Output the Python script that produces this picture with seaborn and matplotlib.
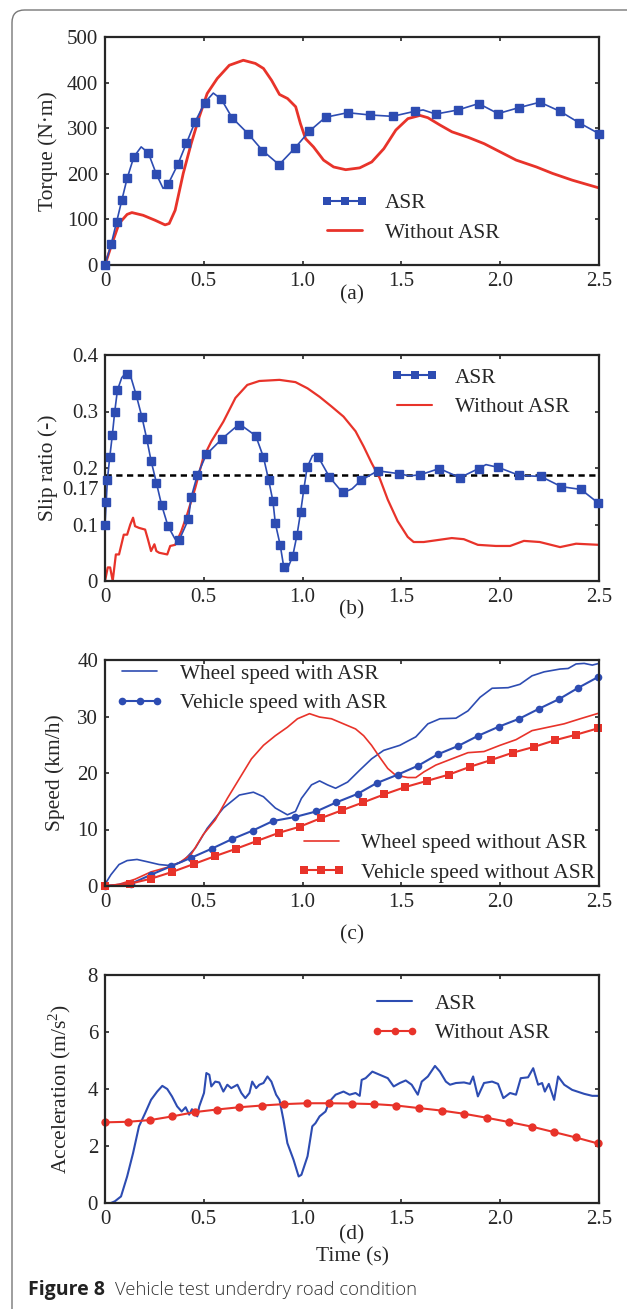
import numpy as np
import pandas as pd
import matplotlib.pyplot as plt
import seaborn as sns
from matplotlib.lines import Line2D
from matplotlib.patches import FancyBboxPatch

sns.set_style('ticks')
plt.rcParams['font.family'] = ['Liberation Serif', 'DejaVu Serif']
plt.rcParams['mathtext.fontset'] = 'custom'
plt.rcParams['mathtext.rm'] = 'Liberation Serif'
plt.rcParams['xtick.direction'] = 'in'
plt.rcParams['ytick.direction'] = 'in'
plt.rcParams['xtick.top'] = True
plt.rcParams['ytick.right'] = True
plt.rcParams['axes.linewidth'] = 1.6
plt.rcParams['xtick.major.size'] = 3
plt.rcParams['ytick.major.size'] = 3
plt.rcParams['xtick.labelsize'] = 15
plt.rcParams['ytick.labelsize'] = 15

BLUE = '#2D4CB2'
RED = '#E8332A'

# ---------------- (a) torque ----------------
tq_asr_t = [0, 0.032, 0.059, 0.085, 0.112, 0.146, 0.183, 0.219, 0.26, 0.294, 0.319, 0.369, 0.412,
            0.455, 0.505, 0.548, 0.588, 0.643, 0.724, 0.797, 0.881, 0.96, 1.033, 1.116, 1.228,
            1.341, 1.455, 1.567, 1.61, 1.674, 1.786, 1.891, 1.989, 2.094, 2.201, 2.303, 2.399, 2.5]
tq_asr_v = [0, 47, 95, 142, 190, 237, 259, 246, 199, 168, 177, 221, 267,
            313, 356, 377, 364, 323, 288, 251, 220, 256, 293, 324, 334,
            329, 326, 337, 340, 331, 340, 354, 332, 345, 357, 337, 312, 288]
tq_mk_t = [0, 0.032, 0.059, 0.085, 0.112, 0.146, 0.219, 0.26, 0.319, 0.369, 0.412, 0.455, 0.505,
           0.588, 0.643, 0.724, 0.797, 0.881, 0.96, 1.033, 1.116, 1.228, 1.341, 1.455, 1.567,
           1.674, 1.786, 1.891, 1.989, 2.094, 2.201, 2.303, 2.399, 2.5]
tq_mk_v = [0, 47, 95, 142, 190, 237, 246, 199, 177, 221, 267, 313, 356,
           364, 323, 288, 251, 220, 256, 293, 324, 334, 329, 326, 337,
           331, 340, 354, 332, 345, 357, 337, 312, 288]
tq_no_t = [0, 0.03, 0.071, 0.112, 0.136, 0.193, 0.254, 0.304, 0.325, 0.355, 0.396, 0.436, 0.477,
           0.517, 0.568, 0.629, 0.70, 0.761, 0.802, 0.843, 0.883, 0.924, 0.965, 0.989, 1.015,
           1.055, 1.106, 1.157, 1.218, 1.289, 1.35, 1.411, 1.472, 1.533, 1.594, 1.634, 1.695,
           1.756, 1.838, 1.919, 2.0, 2.081, 2.183, 2.264, 2.365, 2.5]
tq_no_v = [0, 40, 91, 111, 115, 109, 98, 88, 91, 120, 201, 266, 325,
           376, 409, 438, 449, 442, 431, 405, 374, 365, 347, 310, 277,
           259, 230, 215, 209, 213, 226, 255, 296, 321, 328, 323, 307,
           292, 280, 266, 248, 230, 215, 201, 186, 169]

# ---------------- (b) slip ratio ----------------
sl_mk_t = [0, 0.006, 0.012, 0.024, 0.037, 0.049, 0.063, 0.112, 0.158, 0.187, 0.211, 0.233, 0.26,
           0.286, 0.319, 0.375, 0.422, 0.436, 0.467, 0.513, 0.593, 0.68, 0.763, 0.802, 0.828,
           0.85, 0.862, 0.887, 0.905, 0.95, 0.972, 0.99, 1.006, 1.023, 1.08, 1.136, 1.203,
           1.295, 1.38, 1.487, 1.595, 1.692, 1.796, 1.891, 1.991, 2.096, 2.206, 2.309, 2.409, 2.496]
sl_mk_v = [0.1, 0.139, 0.179, 0.219, 0.258, 0.299, 0.338, 0.366, 0.329, 0.29, 0.252, 0.213, 0.174,
           0.135, 0.097, 0.072, 0.109, 0.148, 0.187, 0.224, 0.252, 0.276, 0.257, 0.219, 0.179,
           0.141, 0.102, 0.063, 0.024, 0.044, 0.082, 0.122, 0.162, 0.201, 0.219, 0.184, 0.157,
           0.178, 0.195, 0.19, 0.188, 0.199, 0.183, 0.199, 0.201, 0.187, 0.185, 0.167, 0.162, 0.138]
sl_asr_t = [0, 0.006, 0.012, 0.024, 0.037, 0.049, 0.063, 0.085, 0.108, 0.13, 0.158, 0.187, 0.211,
            0.233, 0.26, 0.286, 0.319, 0.355, 0.375, 0.422, 0.436, 0.467, 0.513, 0.593, 0.68,
            0.763, 0.802, 0.828, 0.85, 0.862, 0.887, 0.905, 0.918, 0.95, 0.972, 0.99, 1.006,
            1.023, 1.05, 1.07, 1.08, 1.136, 1.203, 1.25, 1.295, 1.38, 1.487, 1.54, 1.595, 1.692,
            1.796, 1.891, 1.928, 1.991, 2.096, 2.206, 2.309, 2.409, 2.496]
sl_asr_v = [0.1, 0.139, 0.179, 0.219, 0.258, 0.299, 0.338, 0.36, 0.369, 0.362, 0.329, 0.29, 0.252,
            0.213, 0.174, 0.135, 0.097, 0.074, 0.072, 0.109, 0.148, 0.187, 0.224, 0.252, 0.278,
            0.257, 0.219, 0.179, 0.141, 0.102, 0.063, 0.024, 0.017, 0.044, 0.082, 0.122, 0.162,
            0.201, 0.222, 0.224, 0.219, 0.184, 0.156, 0.163, 0.178, 0.195, 0.19, 0.186, 0.188,
            0.199, 0.183, 0.199, 0.206, 0.201, 0.187, 0.185, 0.167, 0.162, 0.138]
sl_no_t = [0, 0.014, 0.026, 0.039, 0.055, 0.071, 0.095, 0.112, 0.128, 0.142, 0.152, 0.172, 0.203,
           0.217, 0.233, 0.25, 0.26, 0.274, 0.315, 0.33, 0.355, 0.386, 0.416, 0.457, 0.497,
           0.538, 0.599, 0.66, 0.72, 0.781, 0.883, 0.964, 1.025, 1.086, 1.146, 1.207, 1.268,
           1.309, 1.349, 1.39, 1.431, 1.481, 1.532, 1.562, 1.613, 1.674, 1.755, 1.816, 1.887,
           1.978, 2.05, 2.12, 2.2, 2.303, 2.384, 2.5]
sl_no_v = [0, 0.024, 0.024, 0.0, 0.047, 0.047, 0.082, 0.082, 0.1, 0.112, 0.097, 0.094, 0.091,
           0.074, 0.053, 0.065, 0.053, 0.05, 0.047, 0.062, 0.064, 0.088, 0.118, 0.165, 0.218,
           0.247, 0.282, 0.324, 0.347, 0.354, 0.356, 0.352, 0.341, 0.326, 0.309, 0.291, 0.265,
           0.238, 0.209, 0.182, 0.144, 0.106, 0.078, 0.069, 0.069, 0.072, 0.076, 0.074, 0.064,
           0.062, 0.062, 0.071, 0.069, 0.06, 0.066, 0.064]
slip_ref = 0.187

# ---------------- (c) speed ----------------
ws_asr_t = [0, 0.03, 0.071, 0.112, 0.162, 0.213, 0.274, 0.335, 0.396, 0.457, 0.517, 0.599, 0.68,
            0.751, 0.802, 0.862, 0.923, 0.964, 0.994, 1.045, 1.086, 1.126, 1.167, 1.228, 1.289,
            1.349, 1.41, 1.492, 1.573, 1.634, 1.695, 1.776, 1.837, 1.898, 1.959, 2.04, 2.1,
            2.161, 2.222, 2.303, 2.344, 2.384, 2.425, 2.466, 2.5]
ws_asr_v = [0.3, 2.0, 3.8, 4.5, 4.7, 4.3, 3.8, 3.6, 4.4, 6.7, 10.2, 13.8, 16.1,
            16.6, 15.8, 13.8, 12.6, 13.2, 15.5, 17.9, 18.6, 17.9, 17.3, 18.4, 20.5,
            22.5, 24.0, 24.9, 26.4, 28.7, 29.6, 29.7, 31.0, 33.4, 35.0, 35.1, 35.7,
            37.2, 37.9, 38.4, 38.5, 39.3, 39.4, 39.1, 39.4]
vs_asr_t = [0, 0.132, 0.233, 0.335, 0.436, 0.54, 0.643, 0.747, 0.85, 0.96, 1.069, 1.171, 1.278,
            1.374, 1.481, 1.585, 1.684, 1.788, 1.889, 1.993, 2.096, 2.198, 2.299, 2.396, 2.496]
vs_asr_v = [0, 0.4, 2.0, 3.5, 5.0, 6.6, 8.3, 9.8, 11.5, 12.2, 13.2, 14.8, 16.3,
            18.2, 19.7, 21.3, 23.3, 24.8, 26.6, 28.2, 29.6, 31.4, 33.1, 35.1, 37.0]
ws_no_t = [0, 0.071, 0.152, 0.233, 0.315, 0.375, 0.436, 0.497, 0.558, 0.619, 0.68, 0.741, 0.802,
           0.862, 0.923, 0.974, 1.035, 1.086, 1.146, 1.207, 1.268, 1.309, 1.349, 1.39, 1.431,
           1.471, 1.532, 1.573, 1.614, 1.674, 1.755, 1.837, 1.918, 1.999, 2.08, 2.161, 2.242,
           2.323, 2.405, 2.5]
ws_no_v = [0, 0.3, 1.2, 2.5, 3.3, 4.1, 5.6, 9.1, 11.7, 15.5, 19.0, 22.5, 24.9,
           26.6, 28.1, 29.6, 30.5, 29.9, 29.6, 28.7, 27.8, 26.6, 24.9, 22.8, 20.8,
           19.6, 19.2, 19.2, 20.2, 21.4, 22.5, 23.6, 23.8, 24.9, 25.9, 27.5, 28.1,
           28.7, 29.6, 30.6]
vs_no_t = [0, 0.126, 0.233, 0.341, 0.45, 0.558, 0.664, 0.771, 0.879, 0.986, 1.092, 1.199, 1.307,
           1.412, 1.518, 1.629, 1.739, 1.847, 1.954, 2.064, 2.169, 2.277, 2.386, 2.494]
vs_no_v = [0, 0.4, 1.3, 2.5, 3.9, 5.3, 6.6, 8.0, 9.4, 10.5, 12.0, 13.4, 14.8,
           16.2, 17.5, 18.6, 19.7, 21.1, 22.3, 23.6, 24.6, 25.8, 26.8, 27.9]

# ---------------- (d) acceleration ----------------
ac_asr_t = [0.03, 0.05, 0.081, 0.112, 0.142, 0.172, 0.203, 0.233, 0.264, 0.29, 0.315, 0.339, 0.365,
            0.388, 0.408, 0.426, 0.44, 0.467, 0.477, 0.501, 0.513, 0.528, 0.538, 0.558, 0.578,
            0.599, 0.619, 0.639, 0.67, 0.69, 0.71, 0.731, 0.745, 0.765, 0.781, 0.802, 0.822,
            0.842, 0.866, 0.883, 0.903, 0.923, 0.954, 0.98, 0.994, 1.025, 1.049, 1.065, 1.086,
            1.116, 1.136, 1.167, 1.207, 1.238, 1.268, 1.289, 1.299, 1.319, 1.353, 1.39, 1.431,
            1.461, 1.492, 1.522, 1.552, 1.583, 1.603, 1.634, 1.67, 1.695, 1.725, 1.746, 1.776,
            1.817, 1.847, 1.863, 1.887, 1.918, 1.959, 1.989, 2.016, 2.05, 2.08, 2.104, 2.141,
            2.167, 2.192, 2.212, 2.226, 2.246, 2.273, 2.293, 2.324, 2.364, 2.425, 2.466, 2.5]
ac_asr_v = [0.0, 0.06, 0.23, 0.93, 1.75, 2.69, 3.15, 3.62, 3.91, 4.11, 4.0, 3.74, 3.39,
            3.21, 3.36, 3.10, 3.29, 3.04, 3.39, 3.86, 4.56, 4.50, 4.09, 4.26, 4.23,
            3.91, 4.15, 4.03, 4.15, 3.86, 3.68, 3.86, 4.26, 4.03, 4.15, 4.21, 4.44,
            4.26, 3.80, 3.62, 2.92, 2.10, 1.52, 0.93, 0.99, 1.64, 2.69, 2.80, 3.04,
            3.21, 3.56, 3.80, 3.91, 3.80, 3.86, 3.76, 4.32, 4.38, 4.61, 4.50, 4.38,
            4.09, 4.21, 4.30, 4.15, 3.80, 4.26, 4.44, 4.81, 4.61, 4.26, 4.15, 4.21,
            4.23, 4.18, 4.44, 3.74, 4.21, 4.26, 4.18, 3.68, 3.86, 3.80, 4.38, 4.41,
            4.73, 4.15, 4.21, 3.91, 4.18, 3.62, 4.44, 4.15, 3.97, 3.83, 3.76, 3.76]
ac_no_t = [0, 0.116, 0.229, 0.341, 0.455, 0.566, 0.68, 0.793, 0.907, 1.021, 1.134, 1.248, 1.362,
           1.475, 1.589, 1.707, 1.818, 1.932, 2.045, 2.159, 2.271, 2.382, 2.494]
ac_no_v = [2.83, 2.85, 2.91, 3.04, 3.19, 3.28, 3.36, 3.42, 3.47, 3.50, 3.50, 3.49, 3.47,
           3.42, 3.33, 3.24, 3.13, 2.99, 2.84, 2.68, 2.49, 2.30, 2.09]

x_ticks = [0, 0.5, 1.0, 1.5, 2.0, 2.5]
x_ticklabels = ['0', '0.5', '1.0', '1.5', '2.0', '2.5']

W, H = 627, 1309
fig = plt.figure(figsize=(W / 100, H / 100), dpi=100)


def make_ax(top_px, bot_px):
    return fig.add_axes([105 / W, 1 - bot_px / H, 494 / W, (bot_px - top_px) / H])


ax_a = make_ax(37, 265)
ax_b = make_ax(355, 581)
ax_c = make_ax(660, 886)
ax_d = make_ax(975, 1203)

# (a)
sns.lineplot(x=tq_no_t, y=tq_no_v, ax=ax_a, color=RED, lw=2.0, sort=False, estimator=None)
sns.lineplot(x=tq_asr_t, y=tq_asr_v, ax=ax_a, color=BLUE, lw=1.2, sort=False, estimator=None)
ax_a.plot(tq_mk_t, tq_mk_v, ls='none', marker='s', ms=5.5, color=BLUE, clip_on=False, zorder=5)

# (b)
ax_b.axhline(slip_ref, color='black', ls=(0, (2.5, 1.8)), lw=1.8)
sns.lineplot(x=sl_no_t, y=sl_no_v, ax=ax_b, color=RED, lw=1.6, sort=False, estimator=None)
sns.lineplot(x=sl_asr_t, y=sl_asr_v, ax=ax_b, color=BLUE, lw=1.2, sort=False, estimator=None)
ax_b.plot(sl_mk_t, sl_mk_v, ls='none', marker='s', ms=5.5, color=BLUE, clip_on=False, zorder=5)

# (c)
sns.lineplot(x=ws_asr_t, y=ws_asr_v, ax=ax_c, color=BLUE, lw=1.2, sort=False, estimator=None)
sns.lineplot(x=ws_no_t, y=ws_no_v, ax=ax_c, color=RED, lw=1.2, sort=False, estimator=None)
sns.lineplot(x=vs_asr_t, y=vs_asr_v, ax=ax_c, color=BLUE, lw=1.5, marker='o', ms=5.5,
             markeredgewidth=0, sort=False, estimator=None, clip_on=False)
sns.lineplot(x=vs_no_t, y=vs_no_v, ax=ax_c, color=RED, lw=1.5, marker='s', ms=5.5,
             markeredgewidth=0, sort=False, estimator=None, clip_on=False)

# (d)
sns.lineplot(x=ac_asr_t, y=ac_asr_v, ax=ax_d, color=BLUE, lw=1.5, sort=False, estimator=None)
sns.lineplot(x=ac_no_t, y=ac_no_v, ax=ax_d, color=RED, lw=1.5, marker='o', ms=6,
             markeredgewidth=0, sort=False, estimator=None, clip_on=False)

panels = [
    (ax_a, (0, 500), [0, 100, 200, 300, 400, 500], 'Torque (N\u00b7m)', -0.095, '(a)', 30),
    (ax_b, (0, 0.4), [0, 0.1, 0.2, 0.3, 0.4], 'Slip ratio (-)', -0.095, '(b)', 29),
    (ax_c, (0, 40), [0, 10, 20, 30, 40], 'Speed (km/h)', -0.081, '(c)', 49),
    (ax_d, (0, 8), [0, 2, 4, 6, 8], 'Acceleration (m/s$^2$)', -0.065, '(d)', 32),
]
for ax, ylim, yt, ylab, ylx, tag, tag_off in panels:
    ax.set_xlim(0, 2.5)
    ax.set_ylim(*ylim)
    ax.set_xticks(x_ticks)
    ax.set_xticklabels(x_ticklabels)
    ax.set_yticks(yt)
    ax.set_yticklabels([('%g' % v) for v in yt])
    ax.set_ylabel(ylab, fontsize=15.5)
    ax.yaxis.set_label_coords(ylx, 0.5)
    ax.set_xlabel('')
    h = ax.get_position().height * H
    ax.text(0.5, -tag_off / h, tag, transform=ax.transAxes, ha='center', va='center', fontsize=15.5)
    ax.tick_params(which='both', width=1.2, pad=5)

ax_d.text(0.5, -54 / 228, 'Time (s)', transform=ax_d.transAxes, ha='center', va='center', fontsize=15.5)
ax_b.text(-0.012, 0.161, '0.17', transform=ax_b.get_yaxis_transform(), ha='right', va='center', fontsize=15)

leg_kw = dict(frameon=False, fontsize=15.3, handlelength=2.25, handletextpad=0.75, labelspacing=0.45,
              borderpad=0, borderaxespad=0, loc='center left', numpoints=3)


def h_line(c, marker=None, lw=1.5):
    return Line2D([], [], color=c, lw=lw, marker=marker, ms=5.5, markeredgewidth=0)


ax_a.legend([h_line(BLUE, 's'), h_line(RED, lw=2.0)],
            ['ASR', 'Without ASR'], bbox_to_anchor=(0.437, 0.206), **leg_kw)
ax_b.legend([h_line(BLUE, 's'), h_line(RED)], ['ASR', 'Without ASR'],
            bbox_to_anchor=(0.579, 0.834), **leg_kw)
leg1 = ax_c.legend([h_line(BLUE, lw=1.2), h_line(BLUE, 'o')],
                   ['Wheel speed with ASR', 'Vehicle speed with ASR'],
                   bbox_to_anchor=(0.022, 0.874), **leg_kw)
ax_c.add_artist(leg1)
ax_c.legend([h_line(RED, lw=1.2), h_line(RED, 's')],
            ['Wheel speed without ASR', 'Vehicle speed without ASR'],
            bbox_to_anchor=(0.389, 0.124), **leg_kw)
ax_d.legend([h_line(BLUE), h_line(RED, 'o')], ['ASR', 'Without ASR'],
            bbox_to_anchor=(0.538, 0.809), **leg_kw)

# rounded frame around the figure (only top and left edges fall inside the image)
frame = FancyBboxPatch((12 / W, -20 / H), 1.5, (H - 10 + 20) / H,
                       boxstyle='round,pad=0,rounding_size=0.02', transform=fig.transFigure,
                       fill=False, ec='#777777', lw=1.0, mutation_aspect=W / H)
fig.patches.append(frame)

fig.text(28 / W, 1 - 1290 / H, 'Figure 8', fontsize=14, fontweight='bold',
         family=['Open Sans', 'DejaVu Sans'], va='center', ha='left', color='#222222')
fig.text(115 / W, 1 - 1290 / H, 'Vehicle test underdry road condition', fontsize=13.3,
         fontweight='light', family=['Open Sans', 'DejaVu Sans'], va='center', ha='left',
         color='#333333')

fig.savefig('out.png', dpi=100)
